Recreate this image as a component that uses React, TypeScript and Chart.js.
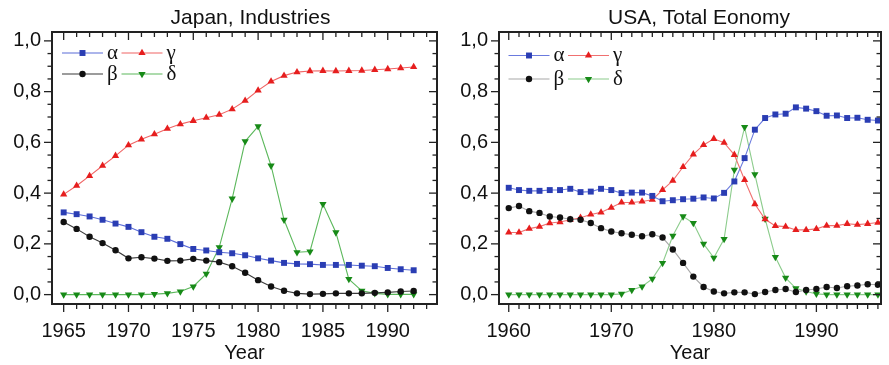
import React, { useEffect, useRef } from 'react';
import { Chart, registerables } from 'chart.js';

Chart.register(...registerables);

// ---------- data ----------
const japanYears = [1965, 1966, 1967, 1968, 1969, 1970, 1971, 1972, 1973, 1974, 1975, 1976, 1977, 1978, 1979, 1980, 1981, 1982, 1983, 1984, 1985, 1986, 1987, 1988, 1989, 1990, 1991, 1992];
const japanAlpha = [0.324, 0.317, 0.308, 0.295, 0.280, 0.267, 0.246, 0.228, 0.220, 0.199, 0.180, 0.174, 0.167, 0.163, 0.155, 0.143, 0.134, 0.125, 0.121, 0.120, 0.117, 0.117, 0.117, 0.114, 0.112, 0.105, 0.100, 0.096];
const japanBeta = [0.286, 0.259, 0.228, 0.203, 0.175, 0.143, 0.147, 0.142, 0.133, 0.134, 0.141, 0.134, 0.128, 0.112, 0.086, 0.057, 0.032, 0.015, 0.005, 0.002, 0.003, 0.005, 0.005, 0.005, 0.007, 0.009, 0.012, 0.014];
const japanGamma = [0.395, 0.429, 0.468, 0.508, 0.547, 0.589, 0.612, 0.632, 0.654, 0.672, 0.685, 0.697, 0.709, 0.731, 0.764, 0.805, 0.840, 0.863, 0.877, 0.881, 0.882, 0.881, 0.882, 0.883, 0.886, 0.889, 0.893, 0.897];
const japanDelta = [0.0, 0.0, 0.0, 0.0, 0.0, 0.0, 0.0, 0.002, 0.005, 0.012, 0.032, 0.082, 0.186, 0.378, 0.604, 0.663, 0.508, 0.295, 0.167, 0.170, 0.357, 0.245, 0.061, 0.015, 0.005, 0.001, 0.001, 0.001];

const usaYears = [1960, 1961, 1962, 1963, 1964, 1965, 1966, 1967, 1968, 1969, 1970, 1971, 1972, 1973, 1974, 1975, 1976, 1977, 1978, 1979, 1980, 1981, 1982, 1983, 1984, 1985, 1986, 1987, 1988, 1989, 1990, 1991, 1992, 1993, 1994, 1995, 1996];
const usaAlpha = [0.421, 0.412, 0.409, 0.409, 0.412, 0.412, 0.417, 0.404, 0.406, 0.417, 0.412, 0.400, 0.402, 0.402, 0.389, 0.368, 0.372, 0.376, 0.378, 0.383, 0.379, 0.401, 0.446, 0.538, 0.650, 0.696, 0.710, 0.713, 0.738, 0.733, 0.723, 0.705, 0.706, 0.696, 0.697, 0.689, 0.686];
const usaBeta = [0.341, 0.349, 0.329, 0.322, 0.308, 0.304, 0.297, 0.295, 0.282, 0.262, 0.249, 0.242, 0.236, 0.230, 0.238, 0.225, 0.178, 0.125, 0.071, 0.030, 0.012, 0.005, 0.009, 0.009, 0.002, 0.010, 0.018, 0.022, 0.010, 0.018, 0.022, 0.030, 0.026, 0.033, 0.036, 0.041, 0.039];
const usaGamma = [0.245, 0.245, 0.260, 0.268, 0.282, 0.286, 0.295, 0.303, 0.316, 0.324, 0.343, 0.363, 0.363, 0.367, 0.374, 0.413, 0.449, 0.503, 0.553, 0.590, 0.614, 0.599, 0.551, 0.452, 0.357, 0.297, 0.271, 0.268, 0.255, 0.255, 0.259, 0.272, 0.272, 0.279, 0.276, 0.279, 0.284];
const usaDelta = [0.0, 0.0, 0.0, 0.0, 0.0, 0.0, 0.0, 0.0, 0.0, 0.0, 0.0, 0.003, 0.018, 0.032, 0.062, 0.124, 0.232, 0.308, 0.282, 0.200, 0.145, 0.219, 0.492, 0.660, 0.474, 0.299, 0.148, 0.066, 0.025, 0.012, 0.003, 0.0, 0.0, 0.0, 0.0, 0.0, 0.0];

const seriesLabels = ['α', 'β', 'γ', 'δ'];
const yTickValues = [0, 0.2, 0.4, 0.6, 0.8, 1.0];
const japanXTicks = [1965, 1970, 1975, 1980, 1985, 1990];
const usaXTicks = [1960, 1970, 1980, 1990];

const japanTitle = 'Japan, Industries';
const usaTitle = 'USA, Total Eonomy';
const xTitle = 'Year';

// ---------- styles ----------
const markerColors = ['#2a3db3', '#111111', '#e61e1e', '#178a17'];
const japanLineColors = ['#5a6cd8', '#3a3a3a', '#f06464', '#5cb85c'];
const usaLineColors = ['#6a7ade', '#a8a8a8', '#f07070', '#8ccc8c'];
const pointStyles = ['rect', 'circle', 'triangle', 'triangle'];
const pointRotations = [0, 0, 0, 180];
const pointRadii = [4.2, 3.2, 4.2, 4.2];

function drawMarker(ctx: CanvasRenderingContext2D, style: string, x: number, y: number, r: number, rot: number, color: string) {
  ctx.save();
  ctx.fillStyle = color;
  ctx.beginPath();
  if (style === 'rect') {
    const s = r * Math.SQRT1_2;
    ctx.rect(x - s, y - s, 2 * s, 2 * s);
  } else if (style === 'circle') {
    ctx.arc(x, y, r, 0, Math.PI * 2);
  } else {
    let rad = (rot * Math.PI) / 180;
    const t = (2 * Math.PI) / 3;
    ctx.moveTo(x + Math.sin(rad) * r, y - Math.cos(rad) * r);
    rad += t;
    ctx.lineTo(x + Math.sin(rad) * r, y - Math.cos(rad) * r);
    rad += t;
    ctx.lineTo(x + Math.sin(rad) * r, y - Math.cos(rad) * r);
    ctx.closePath();
  }
  ctx.fill();
  ctx.restore();
}

const framePlugin = {
  id: 'frameTicks',
  afterDatasetsDraw(chart: any, _args: any, opts: any) {
    const { ctx, chartArea } = chart;
    const { left, right, top, bottom } = chartArea;
    const x = chart.scales.x;
    const y = chart.scales.y;
    ctx.save();
    ctx.strokeStyle = '#222';
    ctx.lineWidth = 1.3;
    const seg = (x1: number, y1: number, x2: number, y2: number) => {
      ctx.beginPath();
      ctx.moveTo(x1, y1);
      ctx.lineTo(x2, y2);
      ctx.stroke();
    };
    for (let v = Math.ceil(x.min); v <= x.max; v += 1) {
      const px = x.getPixelForValue(v);
      const major = v % opts.xMajor === 0;
      const len = major ? 8 : 5;
      seg(px, bottom, px, bottom + len);
      seg(px, top, px, top + len);
    }
    for (let i = 0; i <= 20; i++) {
      const v = i * 0.05;
      const py = y.getPixelForValue(v);
      const major = i % 4 === 0;
      const len = major ? 8 : 4.5;
      seg(left - len, py, left, py);
      seg(right - len, py, right, py);
    }
    ctx.lineWidth = 2;
    ctx.strokeRect(left, top, right - left, bottom - top);

    // title
    ctx.fillStyle = '#111';
    ctx.font = '21px "Liberation Sans", Arial, sans-serif';
    ctx.textAlign = 'center';
    ctx.textBaseline = 'alphabetic';
    ctx.fillText(opts.title, (left + right) / 2 + opts.titleShift, 24);

    // legend
    const lx = left + opts.legendX;
    const rows = [opts.legendY1, opts.legendY2];
    const order = [[0, 2], [1, 3]];
    ctx.font = '21px "Liberation Serif", "DejaVu Serif", serif';
    ctx.textAlign = 'left';
    rows.forEach((ry: number, ri: number) => {
      let cx = lx;
      order[ri].forEach((si: number) => {
        ctx.strokeStyle = opts.lineColors[si];
        ctx.lineWidth = 1.2;
        seg(cx, top + ry, cx + 41, top + ry);
        drawMarker(ctx, pointStyles[si], cx + 20.5, top + ry, pointRadii[si], pointRotations[si], markerColors[si]);
        ctx.fillStyle = '#111';
        ctx.fillText(seriesLabels[si], cx + 45, top + ry + 5.5);
        cx += 59.5;
      });
    });
    ctx.restore();
  },
};

function makeConfig(years: number[], series: number[][], lineColors: string[], xMin: number, xMax: number, xTicks: number[], yAxisWidth: number, extra: any) {
  const datasets = series.map((s, i) => ({
    label: seriesLabels[i],
    data: s.map((v, k) => ({ x: years[k], y: v })),
    borderColor: lineColors[i],
    backgroundColor: markerColors[i],
    pointBackgroundColor: markerColors[i],
    pointBorderWidth: 0,
    pointBorderColor: markerColors[i],
    pointStyle: pointStyles[i],
    rotation: pointRotations[i],
    pointRadius: pointRadii[i],
    borderWidth: 1.1,
    tension: 0,
  }));
  return {
    type: 'line',
    data: { datasets },
    options: {
      animation: false,
      responsive: false,
      maintainAspectRatio: false,
      layout: { padding: { top: 32, right: 8, left: 0, bottom: 0 } },
      plugins: {
        legend: { display: false },
        title: { display: false },
        tooltip: { enabled: false },
        frameTicks: extra,
      },
      scales: {
        x: {
          type: 'linear',
          min: xMin,
          max: xMax,
          grid: { display: false, drawTicks: false, tickLength: 0 },
          border: { display: false },
          afterBuildTicks: (scale: any) => {
            scale.ticks = xTicks.map((v) => ({ value: v }));
          },
          afterFit: (scale: any) => {
            scale.height = 61;
          },
          ticks: {
            color: '#111',
            font: { family: '"Liberation Sans", Arial, sans-serif', size: 20 },
            padding: 15,
            maxRotation: 0,
            autoSkip: false,
            callback: (v: any) => String(v),
          },
          title: {
            display: true,
            text: xTitle,
            color: '#111',
            font: { family: '"Liberation Sans", Arial, sans-serif', size: 20 },
            padding: { top: 0, bottom: 0 },
          },
        },
        y: {
          type: 'linear',
          min: -0.037,
          max: 1.035,
          grid: { display: false, drawTicks: false, tickLength: 0 },
          border: { display: false },
          afterBuildTicks: (scale: any) => {
            scale.ticks = yTickValues.map((v) => ({ value: v }));
          },
          afterFit: (scale: any) => {
            scale.width = yAxisWidth;
          },
          ticks: {
            color: '#111',
            font: { family: '"Liberation Sans", Arial, sans-serif', size: 20 },
            padding: 11,
            autoSkip: false,
            callback: (v: any) => Number(v).toFixed(1).replace('.', ','),
          },
        },
      },
    },
    plugins: [framePlugin],
  };
}

function Panel({ cfg, left, width }: { cfg: any; left: number; width: number }) {
  const ref = useRef<HTMLCanvasElement | null>(null);
  useEffect(() => {
    if (!ref.current) return;
    const chart = new Chart(ref.current, cfg);
    return () => chart.destroy();
  }, [cfg]);
  return (
    <canvas
      ref={ref}
      width={width}
      height={365}
      style={{ position: 'absolute', left, top: 0, width, height: 365 }}
    />
  );
}

const japanCfg = makeConfig(
  japanYears,
  [japanAlpha, japanBeta, japanGamma, japanDelta],
  japanLineColors,
  1964.1,
  1993.8,
  japanXTicks,
  52,
  { xMajor: 5, title: japanTitle, titleShift: 6, legendX: 10, legendY1: 21, legendY2: 42, lineColors: japanLineColors }
);

const usaCfg = makeConfig(
  usaYears,
  [usaAlpha, usaBeta, usaGamma, usaDelta],
  usaLineColors,
  1959.05,
  1996.3,
  usaXTicks,
  54,
  { xMajor: 10, title: usaTitle, titleShift: 9, legendX: 9.5, legendY1: 23.5, legendY2: 47, lineColors: usaLineColors }
);

export default function App() {
  return (
    <div style={{ position: 'fixed', left: 0, top: 0, width: 889, height: 365, background: '#fff' }}>
      <Panel cfg={japanCfg} left={0} width={445} />
      <Panel cfg={usaCfg} left={445} width={444} />
    </div>
  );
}
